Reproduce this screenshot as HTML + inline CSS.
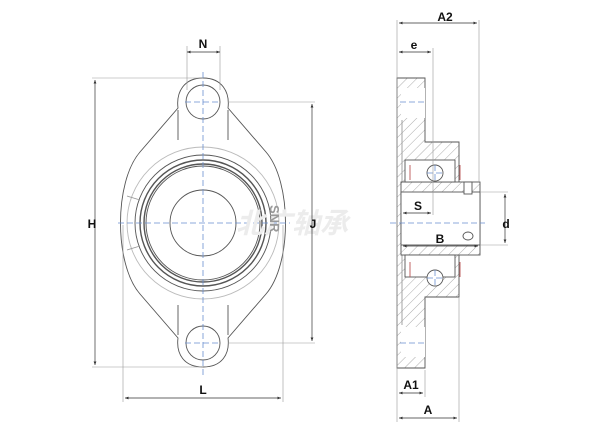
<!DOCTYPE html>
<html><head><style>html,body{margin:0;padding:0;background:#fff}svg{display:block}text{font-family:"Liberation Sans",sans-serif;font-weight:bold;fill:#111}</style></head>
<body>
<svg width="615" height="438" viewBox="0 0 615 438" xmlns="http://www.w3.org/2000/svg">
<defs>
<pattern id="h" width="7" height="7" patternUnits="userSpaceOnUse" patternTransform="rotate(45)"><rect width="7" height="7" fill="#fff"/><line x1="0" y1="0" x2="0" y2="7" stroke="#888" stroke-width="0.7"/></pattern>
<marker id="a" markerWidth="6" markerHeight="6" refX="5" refY="3" orient="auto-start-reverse"><path d="M0,1 L5,3 L0,5 Z" fill="#333"/></marker>
</defs>
<g fill="none" stroke="#555" stroke-width="0.9">
<path d="M203,78 C222,78 230,92 228,108 L266,152 C292,182 292,264 266,294 L228,338 C230,354 222,367 203,367 C184,367 176,354 178,338 L140,294 C114,264 114,182 140,152 L178,108 C176,92 184,78 203,78 Z"/>
<line x1="178" y1="110" x2="178" y2="140"/><line x1="228" y1="110" x2="228" y2="140"/>
<line x1="178" y1="305" x2="178" y2="335"/><line x1="228" y1="305" x2="228" y2="335"/>
<circle cx="203" cy="102" r="17"/><circle cx="203" cy="343" r="17"/>
<circle cx="203" cy="223" r="76" stroke="#bbb"/>
<circle cx="203" cy="223" r="68"/>
<circle cx="203" cy="223" r="63" stroke-width="1.4"/>
<circle cx="203" cy="223" r="59" stroke-width="1.4"/>
<circle cx="203" cy="223" r="57"/>
<circle cx="203" cy="223" r="33"/>
<path d="M127,196 L140,200 M127,250 L140,246" stroke="#999"/>
<path d="M397,78 H425 V142 H459 V297 H425 V368 H397 Z" fill="url(#h)"/>
<rect x="401" y="88" width="24" height="30" fill="#fff" stroke="none"/>
<rect x="401" y="327" width="24" height="30" fill="#fff" stroke="none"/>
<line x1="402" y1="120" x2="402" y2="325" stroke="#999"/>
<rect x="401" y="182" width="79" height="73" fill="url(#h)"/>
<rect x="401" y="192" width="79" height="53" fill="#fff"/>
<rect x="405" y="160" width="50" height="22" fill="#fff"/>
<rect x="405" y="255" width="50" height="22" fill="#fff"/>
<circle cx="435" cy="173" r="8" fill="#fff"/><circle cx="435" cy="278" r="8" fill="#fff"/>
<path d="M410,165 v15 M460,165 v15 M410,262 v15 M460,262 v15" stroke="#b55"/>
<rect x="464" y="182" width="8" height="12" fill="#fff"/>
<ellipse cx="468" cy="236" rx="5" ry="4"/>
</g>
<g stroke="#6a8fd0" stroke-width="0.8" stroke-dasharray="6,3" fill="none">
<line x1="203" y1="72" x2="203" y2="375"/><line x1="118" y1="223" x2="290" y2="223"/>
<line x1="185" y1="102" x2="221" y2="102"/><line x1="185" y1="343" x2="221" y2="343"/>
<line x1="390" y1="223" x2="485" y2="223"/>
<line x1="400" y1="102" x2="425" y2="102"/><line x1="400" y1="343" x2="425" y2="343"/>
<line x1="435" y1="165" x2="435" y2="181"/><line x1="427" y1="173" x2="443" y2="173"/>
<line x1="435" y1="270" x2="435" y2="286"/><line x1="427" y1="278" x2="443" y2="278"/>
</g>
<text x="236" y="233" font-size="28" font-style="italic" style="fill:#ececec;font-family:'Liberation Sans','Noto Sans CJK SC',sans-serif">北广轴承</text>
<text x="270" y="205" font-size="13" transform="rotate(90 270 205)" style="fill:#999">SNR</text>
<g stroke="#999" stroke-width="0.6" fill="none">
<line x1="187" y1="46" x2="187" y2="90"/><line x1="220" y1="46" x2="220" y2="90"/>
<line x1="92" y1="78" x2="203" y2="78"/><line x1="92" y1="367" x2="203" y2="367"/>
<line x1="228" y1="102" x2="315" y2="102"/><line x1="228" y1="343" x2="315" y2="343"/>
<line x1="123" y1="225" x2="123" y2="402"/><line x1="283" y1="225" x2="283" y2="402"/>
<line x1="397" y1="20" x2="397" y2="422"/><line x1="479" y1="20" x2="479" y2="182"/>
<line x1="433" y1="48" x2="433" y2="215"/><line x1="425" y1="370" x2="425" y2="397"/>
<line x1="459" y1="297" x2="459" y2="422"/>
<line x1="480" y1="192" x2="508" y2="192"/><line x1="480" y1="245" x2="508" y2="245"/>
</g>
<g stroke="#333" stroke-width="0.7" marker-start="url(#a)" marker-end="url(#a)">
<line x1="187" y1="52" x2="220" y2="52"/><line x1="95" y1="80" x2="95" y2="365"/>
<line x1="312" y1="104" x2="312" y2="341"/><line x1="125" y1="398" x2="281" y2="398"/>
<line x1="399" y1="23" x2="477" y2="23"/><line x1="399" y1="52" x2="431" y2="52"/>
<line x1="505" y1="194" x2="505" y2="243"/><line x1="403" y1="213" x2="431" y2="213"/>
<line x1="403" y1="246" x2="478" y2="246"/><line x1="399" y1="393" x2="423" y2="393"/>
<line x1="399" y1="418" x2="457" y2="418"/>
</g>
<g font-size="12" text-anchor="middle">
<text x="203" y="48">N</text><text x="92" y="228">H</text><text x="313" y="228">J</text><text x="203" y="394">L</text>
<text x="445" y="21">A2</text><text x="414" y="49">e</text><text x="418" y="210">S</text><text x="440" y="243">B</text>
<text x="506" y="228">d</text><text x="411" y="389">A1</text><text x="428" y="414">A</text>
</g>
</svg>
</body></html>
